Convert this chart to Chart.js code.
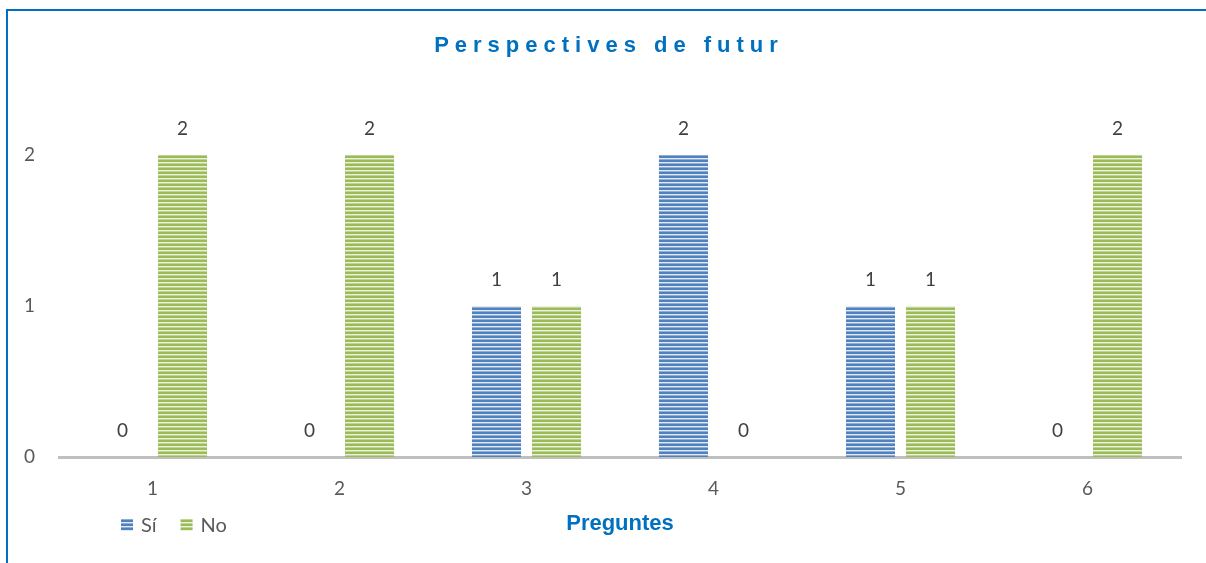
<!DOCTYPE html>
<html>
<head>
<meta charset="utf-8">
<script src="https://cdn.jsdelivr.net/npm/chart.js@4.4.0/dist/chart.umd.min.js"></script>
<style>
  body { margin: 0; background: #fff; }
  #wrap { position: relative; width: 1206px; height: 563px; overflow: hidden; }
  #frame { position: absolute; left: 6px; top: 9px; width: 1300px; height: 700px; border: 2px solid #0070C0; box-sizing: border-box; }
  canvas { position: absolute; left: 0; top: 0; }
</style>
</head>
<body>
<div id="wrap">
  <div id="frame"></div>
  <canvas id="myChart" width="1206" height="563"></canvas>
</div>
<script>
const preguntes = ['1', '2', '3', '4', '5', '6']
const valorsSi = [0, 0, 1, 2, 1, 0]
const valorsNo = [2, 2, 1, 0, 1, 2]
const titol = 'Perspectives de futur'

// ratlles horitzontals de les barres
function ratlles(fosc, mig, clar) {
  const c = document.createElement('canvas')
  c.width = 4
  c.height = 4
  const x = c.getContext('2d')
  x.fillStyle = fosc
  x.fillRect(0, 0, 4, 2)
  x.fillStyle = clar
  x.fillRect(0, 2, 4, 1)
  x.fillStyle = mig
  x.fillRect(0, 3, 4, 1)
  return x.createPattern(c, 'repeat')
}
const ratllaBlau = ratlles('#4F81BD', '#8FADD6', '#E2EAF5')
const ratllaVerd = ratlles('#9BBB59', '#C0D594', '#EBF1DE')

const numFont = '19px Lato, "Open Sans", sans-serif'

const etiquetes = {
  id: 'etiquetes',
  afterDatasetsDraw(chart) {
    const ctx = chart.ctx
    ctx.save()
    ctx.font = numFont
    ctx.fillStyle = '#404040'
    ctx.textAlign = 'center'
    ctx.textBaseline = 'middle'
    chart.data.datasets.forEach((ds, i) => {
      chart.getDatasetMeta(i).data.forEach((bar, j) => {
        ctx.fillText(ds.data[j], bar.x, bar.y - 26)
      })
    })
    ctx.restore()
  },
  afterDraw(chart) {
    const ctx = chart.ctx
    ctx.save()
    // titol
    ctx.font = 'bold 22px "Liberation Sans", Arial, sans-serif'
    ctx.fillStyle = '#0070C0'
    ctx.textAlign = 'center'
    ctx.textBaseline = 'middle'
    ctx.letterSpacing = '6px'
    ctx.fillText(titol, 609, 46)
    ctx.letterSpacing = '0px'
    // llegenda
    ctx.font = '20px Lato, "Open Sans", sans-serif'
    ctx.textAlign = 'left'
    let x = 121
    chart.data.datasets.forEach(ds => {
      ctx.fillStyle = ds.backgroundColor
      ctx.fillRect(x, 519, 12, 12)
      ctx.fillStyle = '#595959'
      ctx.fillText(ds.label, x + 20, 526)
      x += 20 + ctx.measureText(ds.label).width + 24
    })
    ctx.restore()
  }
}

const ctx = document.getElementById('myChart')

Chart.defaults.font.family = 'Lato, "Open Sans", sans-serif'
Chart.defaults.color = '#595959'

new Chart(ctx, {
  type: 'bar',
  data: {
    labels: preguntes,
    datasets: [
      { label: 'Sí', data: valorsSi, backgroundColor: ratllaBlau },
      { label: 'No', data: valorsNo, backgroundColor: ratllaVerd }
    ]
  },
  options: {
    responsive: false,
    animation: false,
    categoryPercentage: 0.642,
    barPercentage: 0.817,
    layout: { padding: { top: 155, right: 25, left: 0, bottom: 0 } },
    plugins: {
      legend: { display: false },
      tooltip: { enabled: false }
    },
    scales: {
      x: {
        grid: { display: false, drawTicks: false },
        border: { display: true, color: '#BFBFBF', width: 3 },
        ticks: { padding: 20, font: { size: 19 }, color: '#595959' },
        title: {
          display: true,
          text: 'Preguntes',
          color: '#0070C0',
          font: { family: '"Liberation Sans", Arial, sans-serif', size: 22, weight: 'bold' },
          padding: { top: 10, bottom: 26 }
        },
        afterFit(scale) { scale.height = 106 }
      },
      y: {
        min: 0,
        max: 2,
        grid: { display: false, drawTicks: false },
        border: { display: false },
        ticks: { stepSize: 1, padding: 24, font: { size: 19 }, color: '#595959' },
        afterFit(scale) { scale.width = 59 }
      }
    }
  },
  plugins: [etiquetes]
})
</script>
</body>
</html>
